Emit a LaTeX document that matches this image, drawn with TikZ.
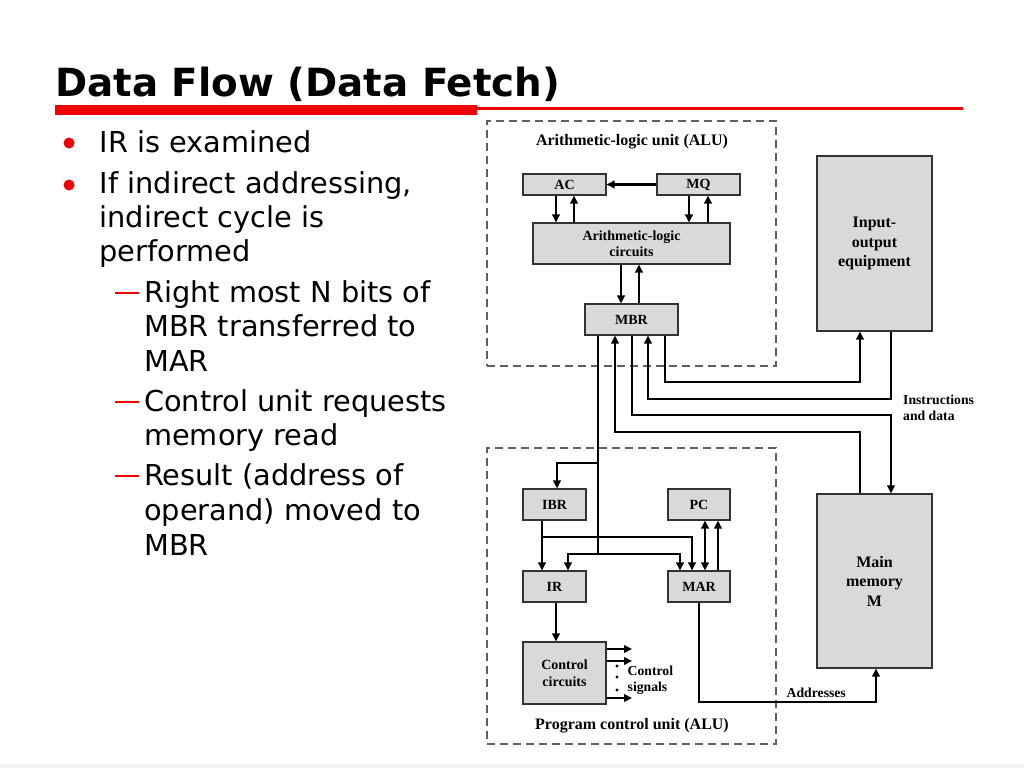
\documentclass[tikz,border=0pt]{standalone}
\usepackage{fontspec}
\newfontfamily\dv{DejaVu Sans}
\newfontfamily\tnr{Liberation Serif}
\usetikzlibrary{arrows.meta}
\definecolor{slred}{RGB}{240,0,0}
\definecolor{boxgray}{RGB}{217,217,217}
\definecolor{dashgray}{RGB}{95,95,95}
\begin{document}
\begin{tikzpicture}[x=1pt,y=-1pt,
  box/.style={draw=black!80, line width=1.1pt, fill=boxgray, inner sep=0pt, align=center,
    font=\tnr\bfseries\fontsize{14}{16.5}\selectfont},
  bigbox/.style={box, font=\tnr\bfseries\fontsize{16}{19.5}\selectfont},
  unitbox/.style={draw=dashgray, line width=1.6pt, dash pattern=on 8pt off 5pt, inner sep=0pt},
  unitlabel/.style={inner sep=0pt, font=\tnr\bfseries\fontsize{16}{18}\selectfont},
  lbl/.style={inner sep=0pt, align=left, font=\tnr\bfseries\fontsize{13.7}{16.5}\selectfont},
  conn/.style={line width=2.7pt, draw=black},
  arr/.style={conn, -{Triangle[length=8pt,width=7.5pt]}},
  darr/.style={conn, {Triangle[length=8pt,width=7.5pt]}-{Triangle[length=8pt,width=7.5pt]}},
  body/.style={inner sep=0pt, anchor=base west, font=\dv\fontsize{28.8}{34}\selectfont},
  bulletdot/.style={circle, fill=slred, inner sep=0pt, minimum size=11pt},
  subdash/.style={draw=slred, line width=2.6pt}
]
\useasboundingbox (0,0) rectangle (1024,768);
\fill[black!5] (0,764) rectangle (1024,768);

% ---- title ----
\node[inner sep=0pt, anchor=base west, font=\dv\bfseries\fontsize{38.8}{40}\selectfont] (title) at (55,96.5) {Data Flow (Data Fetch)};
\fill[slred] (55,105) rectangle (477,114.5);
\fill[slred] (477,106.5) rectangle (963,110);

% ---- bullet text ----
\node[bulletdot] (b1) at (69,143) {};
\node[bulletdot] (b2) at (69,185) {};
\node[body] (t1) at (99.5,152) {IR is examined};
\node[body] (t2) at (99.5,193) {If indirect addressing,};
\node[body] (t3) at (99.5,227) {indirect cycle is};
\node[body] (t4) at (99.5,261) {performed};
\draw[subdash] (115,293) -- (139,293);
\node[body] (t5) at (144,302) {Right most N bits of};
\node[body] (t6) at (144,336) {MBR transferred to};
\node[body] (t7) at (144,371) {MAR};
\draw[subdash] (115,402) -- (139,402);
\node[body] (t8) at (144,411) {Control unit requests};
\node[body] (t9) at (144,445) {memory read};
\draw[subdash] (115,476) -- (139,476);
\node[body] (t10) at (144,485) {Result (address of};
\node[body] (t11) at (144,520) {operand) moved to};
\node[body] (t12) at (144,555) {MBR};

% ---- dashed units ----
\node[unitbox, minimum width=289pt, minimum height=245pt] (ALU) at (631.5,243.5) {};
\node[unitbox, minimum width=289pt, minimum height=296pt] (PCU) at (631.5,596) {};
\node[unitlabel] (ALUl) at (632,142) {Arithmetic-logic unit (ALU)};
\node[unitlabel] (PCUl) at (632,726) {Program control unit (ALU)};

% ---- boxes ----
\node[box, minimum width=83pt, minimum height=21pt] (AC) at (564.5,184.5) {AC};
\node[box, minimum width=83pt, minimum height=21pt] (MQ) at (698.5,184.5) {MQ};
\node[box, minimum width=197pt, minimum height=41pt] (ALC) at (631.5,243.5) {Arithmetic-logic\\circuits};
\node[box, minimum width=93pt, minimum height=31pt] (MBR) at (631.5,319.5) {MBR};
\node[bigbox, minimum width=115pt, minimum height=175pt] (IO) at (874.5,243.5) {Input-\\output\\equipment};
\node[bigbox, minimum width=115pt, minimum height=174pt] (MEM) at (874.5,581) {Main\\memory\\M};
\node[box, minimum width=63pt, minimum height=31pt] (IBR) at (554.5,504.5) {IBR};
\node[box, minimum width=62pt, minimum height=31pt] (PC) at (699,504.5) {PC};
\node[box, minimum width=63pt, minimum height=31pt] (IR) at (554.5,586.5) {IR};
\node[box, minimum width=62pt, minimum height=31pt] (MAR) at (699,586.5) {MAR};
\node[box, minimum width=83pt, minimum height=62pt] (CTRL) at (564.5,673) {Control\\circuits};

% ---- labels ----
\node[lbl, anchor=west] (ID) at (903,408) {Instructions\\and data};
\node[lbl, anchor=west] (CS) at (627.5,680) {Control\\signals};
\node[lbl, anchor=west] (AD) at (786.5,693) {Addresses};

% ---- named guide coordinates ----
\coordinate (xAd) at (556,0);  \coordinate (xAu) at (574,0);
\coordinate (xQd) at (689,0);  \coordinate (xQu) at (708,0);
\coordinate (xMd) at (621,0);  \coordinate (xMu) at (639,0);
\coordinate (xb1) at (598,0);  \coordinate (xb2) at (615,0);
\coordinate (xb3) at (632,0);  \coordinate (xb4) at (648,0);
\coordinate (xb5) at (665,0);
\coordinate (xio1) at (860,0); \coordinate (xio2) at (891,0);
\coordinate (xibr) at (557,0); \coordinate (xir1) at (542,0);
\coordinate (xir2) at (568,0); \coordinate (xmar1) at (680,0);
\coordinate (xmar2) at (692,0);\coordinate (xpc1) at (705,0);
\coordinate (xpc2) at (718,0); \coordinate (xctl) at (556,0);
\coordinate (xmarb) at (699,0);\coordinate (xmemb) at (876,0);
\coordinate (xsig) at (632,0);
\coordinate (yb1) at (0,382);  \coordinate (yb2) at (0,399);
\coordinate (yb3) at (0,415);  \coordinate (yb4) at (0,432);
\coordinate (ybr) at (0,463);  \coordinate (yir1) at (0,537);
\coordinate (yir2) at (0,554); \coordinate (yadr) at (0,702);
\coordinate (ys1) at (0,649);  \coordinate (ys2) at (0,661);
\coordinate (ys3) at (0,698);

% ---- ALU connectors ----
\draw[arr] (MQ.west) -- (AC.east);
\draw[arr] (AC.south -| xAd) -- (ALC.north -| xAd);
\draw[arr] (ALC.north -| xAu) -- (AC.south -| xAu);
\draw[arr] (MQ.south -| xQd) -- (ALC.north -| xQd);
\draw[arr] (ALC.north -| xQu) -- (MQ.south -| xQu);
\draw[arr] (ALC.south -| xMd) -- (MBR.north -| xMd);
\draw[arr] (MBR.north -| xMu) -- (ALC.south -| xMu);

% ---- buses ----
\draw[arr] (MBR.south -| xb5) -- (xb5 |- yb1) -- (xio1 |- yb1) -- (IO.south -| xio1);
\draw[arr] (IO.south -| xio2) -- (xio2 |- yb2) -- (xb4 |- yb2) -- (MBR.south -| xb4);
\draw[arr] (MBR.south -| xb3) -- (xb3 |- yb3) -- (xio2 |- yb3) -- (MEM.north -| xio2);
\draw[arr] (MEM.north -| xio1) -- (xio1 |- yb4) -- (xb2 |- yb4) -- (MBR.south -| xb2);

% ---- program control unit ----
\draw[conn] (MBR.south -| xb1) -- (xb1 |- yir2);
\draw[arr] (xb1 |- ybr) -- (xibr |- ybr) -- (IBR.north -| xibr);
\draw[arr] (xb1 |- yir2) -- (xir2 |- yir2) -- (IR.north -| xir2);
\draw[arr] (xb1 |- yir2) -- (xmar1 |- yir2) -- (MAR.north -| xmar1);
\draw[arr] (IBR.south -| xir1) -- (IR.north -| xir1);
\draw[arr] (xir1 |- yir1) -- (xmar2 |- yir1) -- (MAR.north -| xmar2);
\draw[darr] (PC.south -| xpc1) -- (MAR.north -| xpc1);
\draw[arr] (MAR.north -| xpc2) -- (PC.south -| xpc2);
\draw[arr] (IR.south -| xctl) -- (CTRL.north -| xctl);
\draw[arr] (MAR.south -| xmarb) -- (xmarb |- yadr) -- (xmemb |- yadr) -- (MEM.south -| xmemb);

% ---- control signals ----
\draw[arr] (CTRL.east |- ys1) -- (xsig |- ys1);
\draw[arr] (CTRL.east |- ys2) -- (xsig |- ys2);
\draw[arr] (CTRL.east |- ys3) -- (xsig |- ys3);
\fill (617,666) circle (1.6);
\fill (617,677) circle (1.6);
\fill (617,690) circle (1.6);
\end{tikzpicture}
\end{document}
